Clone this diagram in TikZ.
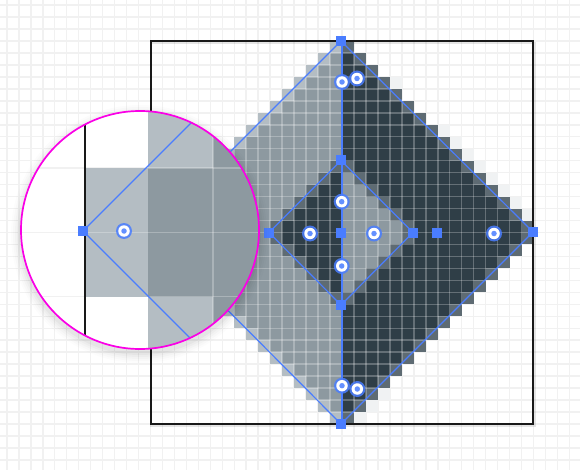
\documentclass[tikz,border=0pt]{standalone}
\definecolor{gridgray}{HTML}{F1F1F1}
\definecolor{cellgrey}{HTML}{8D99A0}
\definecolor{celllight}{HTML}{B4BDC3}
\definecolor{celldark}{HTML}{2F3E47}
\definecolor{cellmid}{HTML}{5E6B73}
\definecolor{cellfaint}{HTML}{F0F2F3}
\definecolor{handleblue}{HTML}{4A7DFF}
\definecolor{lensmagenta}{HTML}{FA00E6}
\tikzset{
  handle/.style={rectangle,fill=handleblue,draw=none,minimum size=10pt,inner sep=0pt},
  edgeline/.style={draw=handleblue,line width=1.2pt},
  spine/.style={draw=handleblue,line width=2pt},
  bggrid/.style={draw=gridgray,line width=1.5pt},
  overgrid/.style={draw=white,draw opacity=.26,line width=1.5pt},
  halo/.style={circle,fill=handleblue,fill opacity=.85,draw=none,minimum size=16pt,inner sep=0pt},
  targetring/.style={circle,fill=white,draw=none,minimum size=11.5pt,inner sep=0pt},
  targetdot/.style={circle,fill=handleblue,fill opacity=.85,draw=none,minimum size=5.5pt,inner sep=0pt},
  lensrim/.style={draw=lensmagenta,line width=1.7pt},
  frameline/.style={draw=black!90,line width=1.8pt}
}
\newcommand{\targetmark}[1]{%
  \node[halo] at (#1) {};
  \node[targetring] at (#1) {};
  \node[targetdot] at (#1) {};
}
\newcommand{\gridlines}[1]{%
  \foreach \k in {-29,...,20} {\draw[#1] ({342+11.97*\k},0) -- ({342+11.97*\k},470);}
  \foreach \k in {-20,...,20} {\draw[#1] (0,{232.5+11.97*\k}) -- (580,{232.5+11.97*\k});}
}
\begin{document}
\begin{tikzpicture}[x=1pt,y=-1pt]
\useasboundingbox (0,0) rectangle (580,470);
\fill[white] (0,0) rectangle (580,470);
\gridlines{bggrid}
% frame shadow and frame
\draw[black,opacity=.1,line width=2pt] (151,43) rectangle (535,426);
% raster cells
\begin{scope}
\foreach \i in {-16,...,15} {
  \foreach \j in {-16,...,15} {
    \pgfmathtruncatemacro{\a}{\i<0 ? -\i-1 : \i}
    \pgfmathtruncatemacro{\b}{\j<0 ? -\j-1 : \j}
    \pgfmathtruncatemacro{\s}{\a+\b}
    \def\cc{}
    \ifnum\s<15
      \ifnum\s<5 \ifnum\i<0 \def\cc{celldark}\else\def\cc{cellgrey}\fi
      \else\ifnum\s=5 \def\cc{cellmid}
      \else\ifnum\i<0 \def\cc{cellgrey}\else\def\cc{celldark}\fi
      \fi\fi
    \else\ifnum\s=15
      \ifnum\i<0 \def\cc{celllight}\else\def\cc{cellmid}\fi
    \fi\fi
    \ifx\cc\empty\else
      \fill[\cc] ({342+11.97*\i},{232.5+11.97*\j}) rectangle ({342+11.97*(\i+1)},{232.5+11.97*(\j+1)});
    \fi
  }
}
% faint cells along the right edge
\foreach \i in {4,8,9,10,11,12,13,14,15} {
  \fill[cellfaint] ({342+11.97*\i},{232.5-11.97*(17-\i)}) rectangle ({342+11.97*(\i+1)},{232.5-11.97*(16-\i)});
}
\foreach \i in {1,2,3} {
  \fill[cellfaint] ({342+11.97*\i},{232.5+11.97*(16-\i)}) rectangle ({342+11.97*(\i+1)},{232.5+11.97*(17-\i)});
}
\end{scope}
% white grid over the cells
\begin{scope}
\clip (342,40) -- (534,232.5) -- (342,424.5) -- (150,232.5) -- cycle;
\gridlines{overgrid}
\end{scope}
\draw[frameline] (151,41) rectangle (533,424);
% anchor coordinates
\coordinate (outerT) at (341,41);
\coordinate (outerR) at (533,232);
\coordinate (outerB) at (341,424);
\coordinate (outerL) at (150,232);
\coordinate (innerT) at (341,160.5);
\coordinate (innerR) at (413,232.5);
\coordinate (innerB) at (341,305);
\coordinate (innerL) at (269,232.5);
\coordinate (innerC) at (341,232.5);
\coordinate (farC) at (437,232.5);
\draw[edgeline] (outerT) -- (outerR) -- (outerB) -- (outerL) -- cycle;
\draw[edgeline] (innerT) -- (innerR) -- (innerB) -- (innerL) -- cycle;
\draw[spine] (342.3,41) -- (342.3,424);
\foreach \p in {outerT,outerR,outerB,innerT,innerR,innerB,innerL,innerC,farC} {\node[handle] at (\p) {};}
\targetmark{342,82}
\targetmark{357,78.5}
\targetmark{342,385.7}
\targetmark{357.3,389}
\targetmark{341.7,201.7}
\targetmark{310,233.5}
\targetmark{374,233.5}
\targetmark{341.7,266}
\targetmark{494,233.5}
% magnifier shadow
\foreach \r/\o in {129/.012,127/.015,125/.02,123/.025,121/.03} {
  \fill[black,opacity=\o] (140,234) circle (\r);
}
% magnifier
\begin{scope}
\clip (140,230) circle (119);
\fill[white] (0,90) rectangle (280,370);
\draw[bggrid] (0,232.5) -- (280,232.5);
\draw[bggrid] (0,168) -- (280,168);
\draw[bggrid] (0,296.5) -- (280,296.5);
\fill[celllight] (84,168) rectangle (148,296.5);
\fill[celllight] (148,104) rectangle (213,360);
\fill[cellgrey] (148,168) rectangle (213,296.5);
\fill[cellgrey] (213,100) rectangle (280,360);
\draw[overgrid] (84,232.5) -- (280,232.5);
\draw[overgrid] (148,168) -- (280,168);
\draw[overgrid] (148,296.5) -- (280,296.5);
\draw[overgrid] (213,100) -- (213,360);
\draw[frameline] (84.7,100) -- (84.7,360);
\coordinate (lensL) at (83,231);
\coordinate (lensU) at (213,101);
\coordinate (lensD) at (213,361);
\draw[edgeline] (lensU) -- (lensL) -- (lensD);
\node[handle] at (lensL) {};
\targetmark{124,231}
\end{scope}
\draw[lensrim] (140,230) circle (119);
\end{tikzpicture}
\end{document}
